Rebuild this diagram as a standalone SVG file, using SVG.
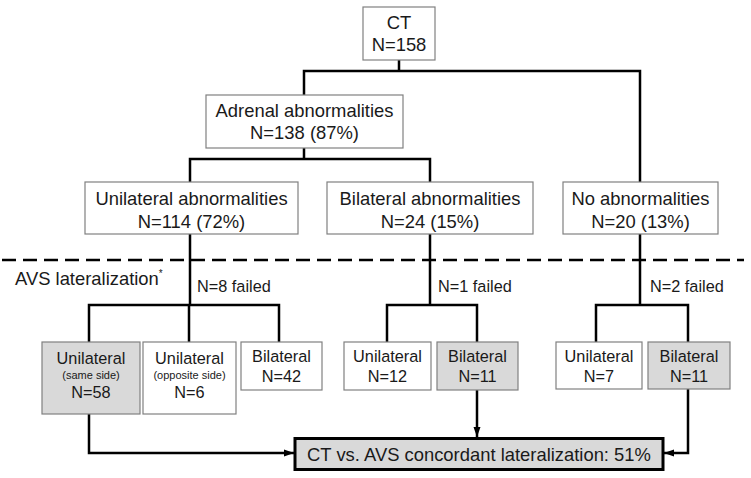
<svg xmlns="http://www.w3.org/2000/svg" width="751" height="478" viewBox="0 0 751 478">
<style>
text{font-family:"Liberation Sans",Arial,sans-serif;fill:#1a1a1a;text-anchor:middle}
.big{font-size:18.4px}
.mid{font-size:16.3px}
.sm{font-size:11px}
.box{fill:#fff;stroke:#808080;stroke-width:1.2}
.grey{fill:#d9d9d9;stroke:#808080;stroke-width:1.2}
.ln{fill:none;stroke:#000;stroke-width:2.5;stroke-linejoin:miter}
</style>
<defs>
<marker id="ah" markerUnits="userSpaceOnUse" markerWidth="10" markerHeight="10" viewBox="0 0 10 10" refX="10" refY="5" orient="auto">
<path d="M0,1.5 L10,5 L0,8.5 Z" fill="#000"/>
</marker>
</defs>
<g id="connectors">
<path class="ln" d="M399,60 V71 M304,95 V71 H640 V182"/>
<path class="ln" d="M304,148 V159 M190,182 V159 H430 V182"/>
<path class="ln" d="M190,234 V305 M89,342 V305 H279 V342 M189,305 V342"/>
<path class="ln" d="M430,234 V305 M387,342 V305 H477 V342"/>
<path class="ln" d="M640,234 V305 M596,342 V305 H688 V342"/>
<path class="ln" d="M89,414 V453 H294" marker-end="url(#ah)"/>
<path class="ln" d="M477,390 V437" marker-end="url(#ah)"/>
<path class="ln" d="M688,389 V453 H664" marker-end="url(#ah)"/>
</g>
<line x1="2" y1="260" x2="744" y2="260" stroke="#000" stroke-width="2.5" stroke-dasharray="14 7"/>
<g id="ct"><rect class="box" x="363" y="7" width="72" height="53"/><text class="big" x="399" y="29">CT</text><text class="big" x="399" y="51">N=158</text></g>
<g id="adrenal"><rect class="box" x="206" y="95" width="197" height="53"/><text class="big" x="304.5" y="117">Adrenal abnormalities</text><text class="big" x="304.5" y="139">N=138 (87%)</text></g>
<g id="unilateral-ab"><rect class="box" x="85" y="182" width="213" height="52"/><text class="big" x="191.5" y="205">Unilateral abnormalities</text><text class="big" x="191.5" y="228">N=114 (72%)</text></g>
<g id="bilateral-ab"><rect class="box" x="327" y="182" width="206" height="52"/><text class="big" x="430" y="205">Bilateral abnormalities</text><text class="big" x="430" y="228">N=24 (15%)</text></g>
<g id="no-ab"><rect class="box" x="563" y="182" width="155" height="52"/><text class="big" x="640.5" y="205">No abnormalities</text><text class="big" x="640.5" y="228">N=20 (13%)</text></g>
<text class="big" x="15" y="285" style="text-anchor:start">AVS lateralization<tspan font-size="10px" dy="-8">*</tspan></text>
<text class="mid" x="197" y="292" style="text-anchor:start">N=8 failed</text>
<text class="mid" x="438" y="292" style="text-anchor:start">N=1 failed</text>
<text class="mid" x="650" y="292" style="text-anchor:start">N=2 failed</text>
<g id="uni-same"><rect class="grey" x="42" y="342" width="98" height="72"/><text class="mid" x="91" y="364">Unilateral</text><text class="sm" x="91" y="379">(same side)</text><text class="mid" x="91" y="398">N=58</text></g>
<g id="uni-opp"><rect class="box" x="143" y="342" width="93" height="72"/><text class="mid" x="189.5" y="364">Unilateral</text><text class="sm" x="189.5" y="379">(opposite side)</text><text class="mid" x="189.5" y="398">N=6</text></g>
<g id="bi-42"><rect class="box" x="241" y="342" width="81" height="48"/><text class="mid" x="281.5" y="362">Bilateral</text><text class="mid" x="281.5" y="382">N=42</text></g>
<g id="uni-12"><rect class="box" x="344" y="342" width="87" height="48"/><text class="mid" x="387.5" y="362">Unilateral</text><text class="mid" x="387.5" y="382">N=12</text></g>
<g id="bi-11a"><rect class="grey" x="437" y="342" width="81" height="48"/><text class="mid" x="477.5" y="362">Bilateral</text><text class="mid" x="477.5" y="382">N=11</text></g>
<g id="uni-7"><rect class="box" x="556" y="342" width="86" height="47"/><text class="mid" x="599" y="362">Unilateral</text><text class="mid" x="599" y="382">N=7</text></g>
<g id="bi-11b"><rect class="grey" x="648" y="342" width="82" height="47"/><text class="mid" x="689" y="362">Bilateral</text><text class="mid" x="689" y="382">N=11</text></g>
<g id="concordant"><rect x="295" y="438.5" width="368" height="31" fill="#d9d9d9" stroke="#000" stroke-width="3"/><text class="big" x="479" y="461">CT vs. AVS concordant lateralization: 51%</text></g>
</svg>
